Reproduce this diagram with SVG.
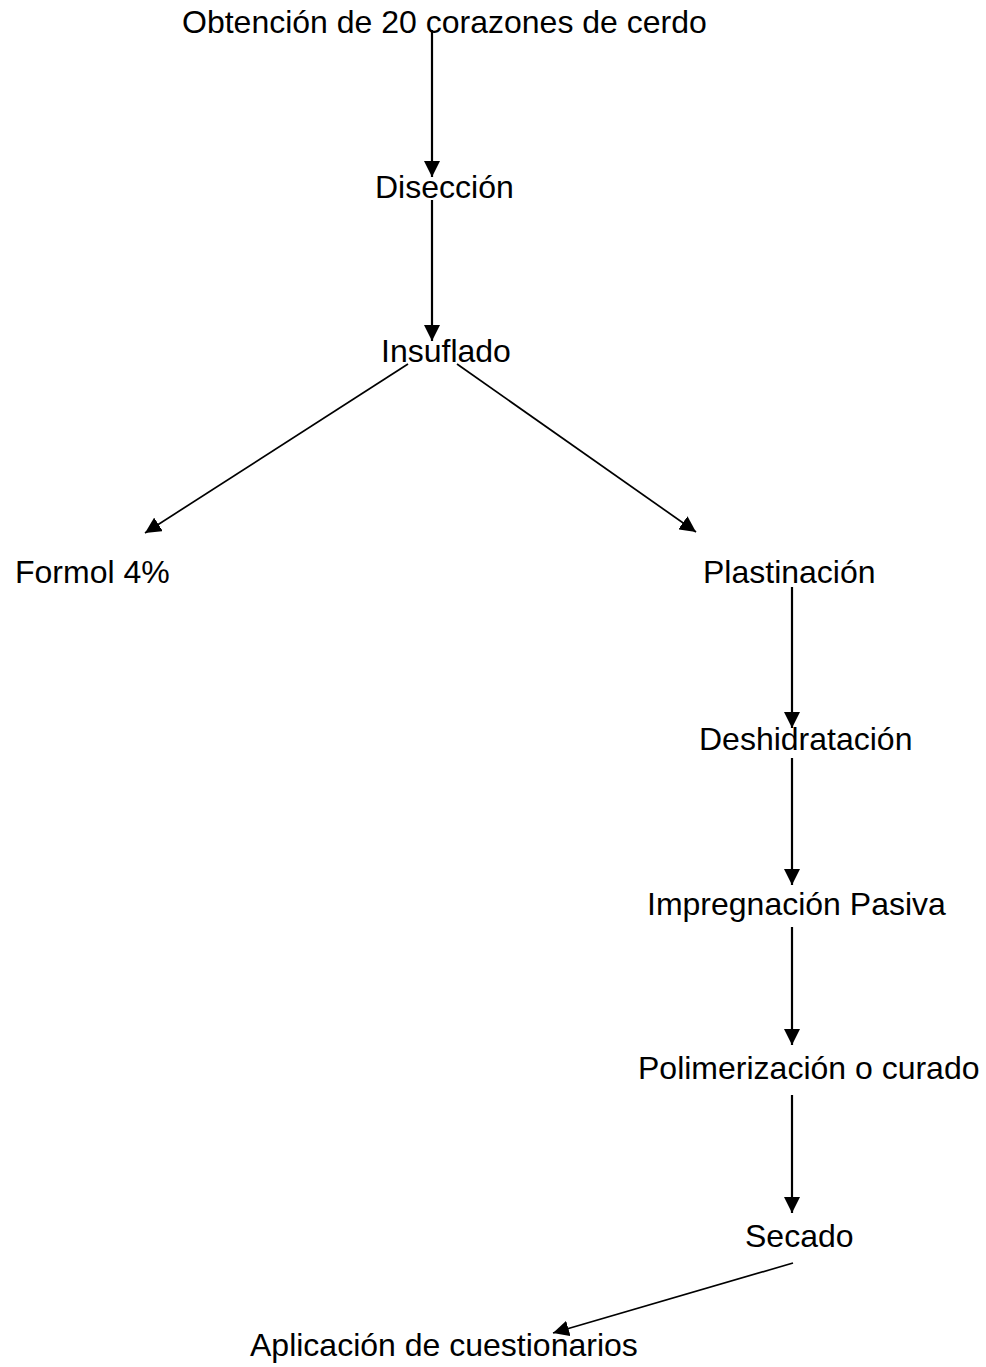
<svg xmlns="http://www.w3.org/2000/svg" width="986" height="1367" viewBox="0 0 986 1367">
<style>
.lbl{font-family:"Liberation Sans",Arial,sans-serif;font-size:32px;fill:#000}
.c{stroke:#000;stroke-width:2.2;fill:none}
.d{stroke:#000;stroke-width:1.7;fill:none}
</style>
<defs>
<marker id="ah" markerWidth="17" markerHeight="16" refX="16" refY="8" orient="auto" markerUnits="userSpaceOnUse">
<path d="M0,0 L16,8 L0,16 z" fill="#000"/>
</marker>
</defs>
<rect width="986" height="1367" fill="#fff"/>
<g id="connectors">
<line class="c" x1="432" y1="30" x2="432" y2="177" marker-end="url(#ah)"/>
<line class="c" x1="432" y1="200" x2="432" y2="341" marker-end="url(#ah)"/>
<line class="d" x1="408" y1="364" x2="145" y2="533" marker-end="url(#ah)"/>
<line class="d" x1="457" y1="364" x2="696" y2="532" marker-end="url(#ah)"/>
<line class="c" x1="792" y1="587" x2="792" y2="728" marker-end="url(#ah)"/>
<line class="c" x1="792" y1="758" x2="792" y2="885" marker-end="url(#ah)"/>
<line class="c" x1="792" y1="927" x2="792" y2="1045" marker-end="url(#ah)"/>
<line class="c" x1="792" y1="1095" x2="792" y2="1213" marker-end="url(#ah)"/>
<line class="d" x1="793" y1="1263" x2="553" y2="1333" marker-end="url(#ah)"/>
</g>
<g id="n1"><text class="lbl" x="182" y="33">Obtención de 20 corazones de cerdo</text></g>
<g id="n2"><text class="lbl" x="375" y="198">Disección</text></g>
<g id="n3"><text class="lbl" x="381" y="362">Insuflado</text></g>
<g id="n4"><text class="lbl" x="15" y="583">Formol 4%</text></g>
<g id="n5"><text class="lbl" x="703" y="583">Plastinación</text></g>
<g id="n6"><text class="lbl" x="699" y="750">Deshidratación</text></g>
<g id="n7"><text class="lbl" x="647" y="915">Impregnación Pasiva</text></g>
<g id="n8"><text class="lbl" x="638" y="1079">Polimerización o curado</text></g>
<g id="n9"><text class="lbl" x="745" y="1247">Secado</text></g>
<g id="n10"><text class="lbl" x="250" y="1356">Aplicación de cuestionarios</text></g>
</svg>
